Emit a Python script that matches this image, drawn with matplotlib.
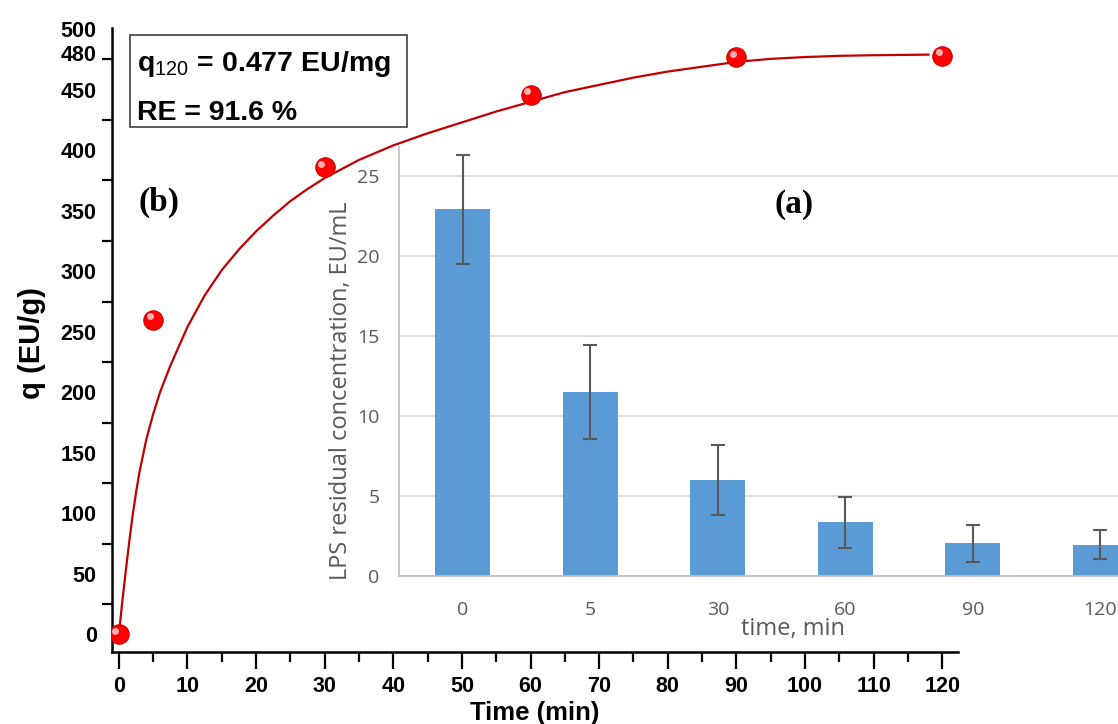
import numpy as np
import matplotlib
matplotlib.use("Agg")
import matplotlib.pyplot as plt
from matplotlib.patches import Rectangle
from matplotlib import transforms

plt.rcParams['font.family'] = ['Liberation Sans', 'DejaVu Sans']
plt.rcParams['mathtext.fontset'] = 'custom'
plt.rcParams['mathtext.rm'] = 'Liberation Sans'
plt.rcParams['mathtext.bf'] = 'Liberation Sans:bold'

# measured adsorption (b)
t_meas = [0, 5, 30, 60, 90, 120]
q_meas = [0, 260, 386, 446, 477, 478]

# fitted kinetic curve
t_fit = [0, 0.5, 1, 1.5, 2, 2.5, 3, 4, 5, 6, 7.5, 10, 12.5, 15, 17.5, 20, 22.5, 25,
         27.5, 30, 35, 40, 45, 50, 55, 60, 65, 70, 75, 80, 85, 90, 95, 100, 105, 110, 118]
q_fit = [0, 27, 52, 76, 98, 117, 134, 161, 182, 200, 222, 254, 280, 301, 318, 333, 346,
         358, 368, 377, 392, 404, 414, 423, 432, 440, 448, 454, 460, 465, 469, 473, 475.5,
         477, 478, 478.5, 479]

# residual LPS (a)
cats = ['0', '5', '30', '60', '90', '120']
conc = [22.9, 11.5, 6.0, 3.35, 2.05, 1.95]
conc_err = [3.4, 2.95, 2.2, 1.6, 1.15, 0.9]

W, H = 1118, 724
fig = plt.figure(figsize=(W / 100, H / 100), dpi=100)

def px(x0, y0, x1, y1):
    # pixel box (top-left origin) -> figure fraction rect
    return [x0 / W, 1 - y1 / H, (x1 - x0) / W, (y1 - y0) / H]

ax = fig.add_axes(px(112, 28, 958, 652))
ax.plot(t_fit, q_fit, color='#c00000', lw=1.6, zorder=3)
ax.plot(t_meas, q_meas, 'o', ms=14, color='#ff0000', mec='#d00000', mew=0.8, zorder=4)
shine = transforms.offset_copy(ax.transData, fig=fig, x=-2.5, y=2.5, units='points')
ax.plot(t_meas, q_meas, 'o', ms=5, color='#ffd0d0', mec='none', alpha=0.85,
        transform=shine, zorder=5)

ax.set_xlim(-1.0, 122.3)
ax.set_ylim(-14.6, 501)
for s in ['top', 'right']:
    ax.spines[s].set_visible(False)
for s in ['left', 'bottom']:
    ax.spines[s].set_linewidth(1.8)

ax.set_xticks(np.arange(0, 121, 10))
ax.set_xticks(np.arange(5, 120, 10), minor=True)
yt = [0, 50, 100, 150, 200, 250, 300, 350, 400, 450, 480, 500]
ax.set_yticks(yt)
ax.set_yticks(np.arange(25, 480, 50), minor=True)
ax.tick_params(axis='x', which='major', length=12, width=1.6, pad=5, labelsize=15.5)
ax.tick_params(axis='x', which='minor', length=7, width=1.6)
ax.tick_params(axis='y', which='major', length=0, pad=11, labelsize=15.5)
ax.tick_params(axis='y', which='minor', length=7, width=1.6)
for lab in ax.get_xticklabels() + ax.get_yticklabels():
    lab.set_fontweight('bold')

fig.text(535 / W, 1 - 713 / H, 'Time (min)', ha='center', va='center',
         fontsize=18.5, fontweight='bold')
fig.text(32 / W, 1 - 343 / H, 'q (EU/g)', ha='center', va='center', rotation=90,
         fontsize=21, fontweight='bold')

# text box
fig.patches.append(Rectangle((130 / W, 1 - 127 / H), 277 / W, 92 / H,
                             transform=fig.transFigure, fc='white', ec='#404040', lw=1.2))
fig.text(137 / W, 1 - 71 / H, r'q$_{\mathrm{120}}$ = 0.477 EU/mg', ha='left',
         va='baseline', fontsize=20.5, fontweight='bold')
fig.text(137 / W, 1 - 120 / H, 'RE = 91.6 %', ha='left', va='baseline',
         fontsize=20.5, fontweight='bold')
fig.text(138 / W, 1 - 202 / H, '(b)', ha='left', va='center', fontsize=24,
         fontweight='bold', family='Liberation Serif')

# inset bar chart
gray = '#595959'
ins = fig.add_axes(px(399, 147, 1164, 576))
ins.patch.set_alpha(0)
xpos = np.arange(len(cats))
ins.bar(xpos, conc, width=0.43, color='#5b9bd5', zorder=2)
ins.errorbar(xpos, conc, yerr=conc_err, fmt='none', ecolor=gray, elinewidth=1.5,
             capsize=5, capthick=1.5, zorder=3)
ins.set_xlim(-0.5, len(cats) - 0.5)
ins.set_ylim(0, 26.8)
ins.set_xticks(xpos)
ins.set_xticklabels(cats)
ins.set_yticks([0, 5, 10, 15, 20, 25])
ins.yaxis.grid(True, color='#d9d9d9', lw=1.2, zorder=0)
ins.set_axisbelow(True)
for s in ['top', 'right']:
    ins.spines[s].set_visible(False)
ins.spines['left'].set_color('#bfbfbf')
ins.spines['bottom'].set_color('#bfbfbf')
ins.spines['left'].set_linewidth(1.2)
ins.spines['bottom'].set_linewidth(1.2)
ins.tick_params(length=0, labelcolor=gray, labelsize=14)
ins.tick_params(axis='x', pad=18)
ins.tick_params(axis='y', pad=14)
for lab in ins.get_xticklabels() + ins.get_yticklabels():
    lab.set_family('Open Sans')

fig.text(341 / W, 1 - 391 / H, 'LPS residual concentration, EU/mL', ha='center',
         va='center', rotation=90, fontsize=17, color=gray, family='Open Sans')
fig.text(793 / W, 1 - 629 / H, 'time, min', ha='center', va='center', fontsize=17,
         color=gray, family='Open Sans')
fig.text(774 / W, 1 - 204 / H, '(a)', ha='left', va='center', fontsize=24,
         fontweight='bold', family='Liberation Serif')

fig.savefig('out.png', dpi=100)
